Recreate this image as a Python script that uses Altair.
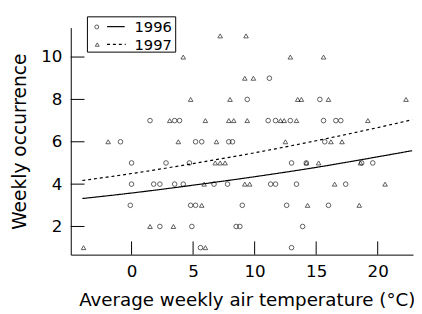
import altair as alt
import pandas as pd

years = ["1996", "1997"]

# 1996 observations (circles)
t96 = [1.5, 3.5, 3.9, 11.1, 11.7, 12.9, 15.6, 16.6, 17.0,
       11.2,
       9.4, 15.3,
       -0.9, 5.2, 5.7, 7.9, 8.2, 15.7,
       0.0, 2.8, 4.7, 13.0, 14.2, 18.7, 19.6,
       0.0, 1.8, 2.3, 3.5, 4.2, 6.7, 7.8, 11.3, 11.7, 13.4, 17.4,
       -0.1, 4.8, 5.2, 9.0, 12.6, 16.0,
       2.3, 4.9, 8.5, 8.8, 13.9,
       5.6, 13.0]
o96 = [7, 7, 7, 7, 7, 7, 7, 7, 7,
       9,
       8, 8,
       6, 6, 6, 6, 6, 6,
       5, 5, 5, 5, 5, 5, 5,
       4, 4, 4, 4, 4, 4, 4, 4, 4, 4, 4,
       3, 3, 3, 3, 3, 3,
       2, 2, 2, 2, 2,
       1, 1]

# 1997 observations (triangles)
t97 = [7.2, 9.3,
       4.2, 12.9, 15.6,
       9.2, 9.9,
       4.8, 8.0, 13.5, 13.8, 16.0, 22.3,
       3.1, 6.0, 7.9, 8.3, 9.4, 12.1, 12.4, 13.4, 19.2,
       -1.9, 3.8, 6.9, 12.5, 16.2, 17.1,
       6.8, 7.2, 7.6, 14.2, 15.2, 18.6,
       5.9, 9.2, 9.6, 16.5, 20.6,
       5.7, 14.3, 18.5,
       1.5, 3.4,
       -3.9, 6.0]
o97 = [11, 11,
       10, 10, 10,
       9, 9,
       8, 8, 8, 8, 8, 8,
       7, 7, 7, 7, 7, 7, 7, 7, 7,
       6, 6, 6, 6, 6, 6,
       5, 5, 5, 5, 5, 5,
       4, 4, 4, 4, 4,
       3, 3, 3,
       2, 2,
       1, 1]

# fitted curves
curve_t = [-4.0, 0, 5, 10, 15, 20, 22.8]
fit96 = [3.32, 3.58, 3.95, 4.35, 4.79, 5.29, 5.58]
fit97 = [4.17, 4.50, 4.97, 5.48, 6.05, 6.67, 7.04]

x_ticks = [0, 5, 10, 15, 20]
y_ticks = [2, 4, 6, 8, 10]

pts = pd.DataFrame({
    "temp": t96 + t97,
    "occ": o96 + o97,
    "year": [years[0]] * len(t96) + [years[1]] * len(t97),
})
curves = pd.DataFrame({
    "temp": curve_t + curve_t,
    "occ": fit96 + fit97,
    "year": [years[0]] * len(curve_t) + [years[1]] * len(curve_t),
})

W, H = 349, 231.5
FONT = "DejaVu Sans"

xs = alt.Scale(domain=[-4.94, 22.87], nice=False, zero=False)
ys = alt.Scale(domain=[0.67, 11.39], nice=False, zero=False)

base_x = alt.X("temp:Q", scale=xs,
               axis=alt.Axis(values=x_ticks, title="Average weekly air temperature (°C)",
                             ticks=False, tickSize=0, grid=False, labelPadding=9,
                             domainColor="black", titleX=W / 2 + 5, titleY=46,
                             titleBaseline="middle", titleFontSize=18.6))
base_y = alt.Y("occ:Q", scale=ys,
               axis=alt.Axis(values=y_ticks, title="Weekly occurrence",
                             ticks=False, tickSize=0, grid=False, labelPadding=9,
                             domainColor="black", titleX=-52, titleY=H / 2,
                             titleBaseline="middle", titleFontSize=19))

points = alt.Chart(pts).mark_point(filled=False, color="black", size=22, strokeWidth=0.9).encode(
    x=base_x, y=base_y,
    shape=alt.Shape("year:N", scale=alt.Scale(domain=years, range=["circle", "triangle-up"]), legend=None),
)

lines = alt.Chart(curves).mark_line(color="black", strokeWidth=1.2, interpolate="monotone").encode(
    x=alt.X("temp:Q", scale=xs),
    y=alt.Y("occ:Q", scale=ys),
    strokeDash=alt.StrokeDash("year:N", scale=alt.Scale(domain=years, range=[[1, 0], [3, 3]]), legend=None),
)

xt = alt.Chart(pd.DataFrame({"t": x_ticks})).mark_rule(color="black", strokeWidth=1).encode(
    x=alt.X("t:Q", scale=xs), y=alt.value(H - 13.5), y2=alt.value(H))
yt = alt.Chart(pd.DataFrame({"t": y_ticks})).mark_rule(color="black", strokeWidth=1).encode(
    y=alt.Y("t:Q", scale=ys), x=alt.value(0), x2=alt.value(14))

# legend
box = alt.Chart(pd.DataFrame({"k": [0]})).mark_rect(fill="white", stroke="black", strokeWidth=1).encode(
    x=alt.value(17), x2=alt.value(107), y=alt.value(-11), y2=alt.value(25))
leg_c = alt.Chart(pd.DataFrame({"k": [0]})).mark_point(shape="circle", filled=False, color="black", size=16, strokeWidth=0.9).encode(
    x=alt.value(26.5), y=alt.value(-0.7))
leg_t = alt.Chart(pd.DataFrame({"k": [0]})).mark_point(shape="triangle-up", filled=False, color="black", size=16, strokeWidth=0.9).encode(
    x=alt.value(27), y=alt.value(17.3))
leg_l1 = alt.Chart(pd.DataFrame({"k": [0]})).mark_rule(color="black", strokeWidth=1.2).encode(
    x=alt.value(37), x2=alt.value(55), y=alt.value(-1))
leg_l2 = alt.Chart(pd.DataFrame({"k": [0]})).mark_rule(color="black", strokeWidth=1.2, strokeDash=[3, 3]).encode(
    x=alt.value(37), x2=alt.value(56), y=alt.value(17))
leg_txt1 = alt.Chart(pd.DataFrame({"k": [0]})).mark_text(align="left", baseline="middle", font=FONT, fontSize=15, color="black").encode(
    x=alt.value(65), y=alt.value(-0.5), text=alt.value(years[0]))
leg_txt2 = alt.Chart(pd.DataFrame({"k": [0]})).mark_text(align="left", baseline="middle", font=FONT, fontSize=15, color="black").encode(
    x=alt.value(65), y=alt.value(17.5), text=alt.value(years[1]))

chart = alt.layer(points, lines, xt, yt, box, leg_c, leg_t, leg_l1, leg_l2, leg_txt1, leg_txt2).properties(
    width=W, height=H,
    autosize=alt.AutoSizeParams(type="none"),
    padding={"left": 64, "top": 17, "right": 1, "bottom": 57},
    background="white",
).configure_view(stroke=None).configure_axis(
    labelFont=FONT, titleFont=FONT, labelFontSize=17, labelColor="black",
    titleColor="black", titleFontWeight="normal", domainWidth=1,
)

chart.save("out.html", embed_options={"renderer": "svg", "actions": False})
